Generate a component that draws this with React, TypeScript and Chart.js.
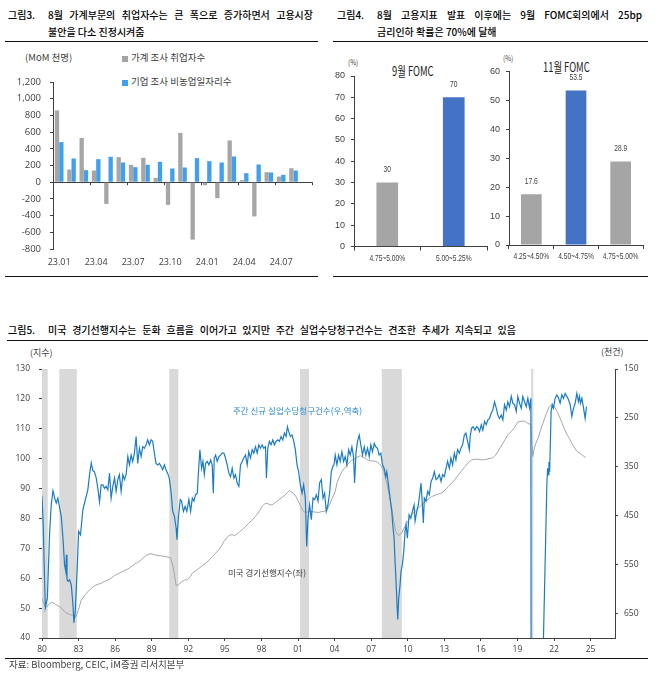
import React, { useEffect, useRef } from 'react';
import { Chart, registerables } from 'chart.js';
Chart.register(...registerables);

const KR = "'Noto Sans CJK KR', 'Noto Sans', sans-serif";
const NUM = "'Open Sans', 'Noto Sans', sans-serif";
const NARROW = "'Liberation Sans', 'Noto Sans', sans-serif";
const AXIS = '#404040';
const TXT = '#404040';

// ---------- 그림3 data ----------
const months = ['23.01', '23.02', '23.03', '23.04', '23.05', '23.06', '23.07', '23.08', '23.09', '23.10', '23.11', '23.12', '24.01', '24.02', '24.03', '24.04', '24.05', '24.06', '24.07', '24.08', '24.09'];
const householdEmp = [860, 152, 530, 140, -260, 300, 208, 292, 52, -272, 590, -688, -36, -192, 500, 25, -410, 120, 68, 168, null];
const payrolls = [480, 284, 144, 276, 304, 236, 180, 208, 244, 164, 176, 288, 252, 236, 308, 108, 212, 116, 88, 140, null];
const householdLabel = '가계 조사 취업자수';
const payrollLabel = '기업 조사 비농업일자리수';

// ---------- 그림4 data ----------
const sepLabels = ['4.75~5.00%', '5.00~5.25%'];
const sepValues = [30, 70];
const sepColors = ['#a5a5a5', '#4472c4'];
const novLabels = ['4.25~4.50%', '4.50~4.75%', '4.75~5.00%'];
const novValues = [17.6, 53.5, 28.9];
const novColors = ['#a5a5a5', '#4472c4', '#a5a5a5'];

// ---------- 그림5 data ----------
const leiYears = [1980.0, 1980.15, 1980.3, 1980.5, 1980.76, 1981.0, 1981.17, 1981.45, 1981.65, 1981.85, 1982.05, 1982.26, 1982.5, 1982.75, 1983.0, 1983.2, 1983.5, 1983.76, 1984.0, 1984.3, 1984.6, 1984.85, 1985.1, 1985.4, 1985.7, 1985.95, 1986.2, 1986.5, 1986.8, 1987.04, 1987.3, 1987.58, 1987.85, 1988.13, 1988.35, 1988.54, 1988.75, 1988.95, 1989.2, 1989.5, 1989.75, 1990.04, 1990.3, 1990.53, 1990.7, 1990.85, 1991.0, 1991.15, 1991.3, 1991.5, 1991.7, 1991.94, 1992.15, 1992.33, 1992.6, 1992.87, 1993.15, 1993.42, 1993.7, 1993.96, 1994.25, 1994.5, 1994.75, 1994.92, 1995.15, 1995.33, 1995.6, 1995.8, 1996.0, 1996.2, 1996.42, 1996.7, 1996.96, 1997.25, 1997.5, 1997.8, 1998.05, 1998.25, 1998.46, 1998.65, 1998.87, 1999.15, 1999.42, 1999.7, 1999.96, 2000.15, 2000.29, 2000.45, 2000.64, 2000.85, 2001.05, 2001.25, 2001.46, 2001.65, 2001.87, 2002.15, 2002.42, 2002.7, 2002.96, 2003.15, 2003.37, 2003.6, 2003.78, 2004.05, 2004.19, 2004.4, 2004.6, 2004.85, 2005.15, 2005.4, 2005.69, 2005.9, 2006.1, 2006.3, 2006.5, 2006.7, 2006.92, 2007.2, 2007.46, 2007.65, 2007.87, 2008.05, 2008.28, 2008.5, 2008.69, 2008.85, 2009.02, 2009.24, 2009.5, 2009.7, 2009.92, 2010.15, 2010.33, 2010.6, 2010.87, 2011.15, 2011.42, 2011.7, 2011.96, 2012.25, 2012.5, 2012.8, 2013.05, 2013.35, 2013.6, 2013.9, 2014.14, 2014.4, 2014.69, 2014.95, 2015.24, 2015.5, 2015.78, 2016.05, 2016.3, 2016.57, 2016.98, 2017.2, 2017.4, 2017.6, 2017.8, 2018.0, 2018.2, 2018.4, 2018.62, 2018.85, 2019.03, 2019.3, 2019.55, 2019.75, 2019.95, 2020.1, 2020.18, 2020.26, 2020.35, 2020.5, 2020.7, 2020.9, 2021.1, 2021.33, 2021.6, 2021.85, 2022.05, 2022.25, 2022.45, 2022.65, 2022.85, 2023.05, 2023.25, 2023.45, 2023.65, 2023.85, 2024.05, 2024.25, 2024.45, 2024.6];
const leiValues = [53.3, 51.5, 50.2, 50.8, 52.0, 51.6, 51.1, 50.5, 49.8, 48.8, 48.3, 47.9, 47.5, 46.8, 49.5, 52.5, 54.3, 55.5, 56.5, 57.5, 58.0, 58.3, 58.9, 59.4, 60.1, 60.9, 61.4, 62.0, 62.6, 63.1, 63.8, 64.7, 65.3, 66.1, 66.9, 67.6, 68.0, 68.2, 67.9, 67.6, 67.5, 67.3, 67.1, 66.9, 64.8, 61.5, 57.7, 57.6, 58.3, 58.9, 59.4, 59.5, 60.5, 61.7, 62.5, 63.3, 64.2, 65.0, 66.0, 67.2, 68.4, 69.5, 71.0, 72.3, 73.5, 74.3, 74.6, 74.2, 74.8, 75.5, 76.2, 77.3, 78.4, 79.5, 80.6, 82.3, 84.0, 84.8, 85.1, 84.6, 84.5, 85.4, 86.2, 87.1, 87.9, 88.8, 89.3, 88.9, 88.4, 87.2, 85.6, 83.8, 82.3, 82.0, 82.3, 82.3, 82.1, 82.0, 82.3, 82.4, 82.8, 84.8, 86.5, 89.0, 91.8, 94.0, 95.7, 97.0, 98.5, 99.4, 100.1, 100.6, 101.0, 100.6, 100.1, 99.6, 99.3, 99.2, 99.0, 98.4, 97.3, 95.5, 91.8, 87.5, 83.4, 79.0, 75.6, 74.3, 75.0, 76.8, 78.4, 80.0, 81.2, 82.4, 83.4, 84.6, 85.6, 86.5, 87.3, 87.8, 88.1, 88.6, 89.5, 90.7, 91.8, 93.2, 94.5, 95.9, 97.3, 98.6, 99.6, 99.8, 99.8, 99.6, 99.7, 99.9, 100.3, 101.2, 102.4, 103.8, 105.1, 106.5, 107.9, 108.8, 109.6, 111.0, 112.3, 112.5, 112.6, 112.1, 111.6, 111.5, 105.7, 100.7, 103.0, 105.1, 107.0, 109.6, 112.0, 114.6, 117.4, 118.2, 117.3, 115.8, 114.0, 112.0, 110.0, 108.2, 106.8, 105.2, 103.8, 102.6, 102.0, 101.4, 100.8, 100.4];
const claimsYears = [1980.0, 1980.1, 1980.27, 1980.44, 1980.63, 1980.76, 1980.9, 1981.04, 1981.17, 1981.3, 1981.45, 1981.58, 1981.72, 1981.85, 1981.95, 1982.0, 1982.05, 1982.13, 1982.26, 1982.4, 1982.54, 1982.62, 1982.73, 1982.9, 1983.0, 1983.16, 1983.35, 1983.49, 1983.76, 1983.9, 1984.04, 1984.17, 1984.3, 1984.45, 1984.58, 1984.72, 1984.85, 1984.99, 1985.13, 1985.26, 1985.4, 1985.54, 1985.67, 1985.81, 1985.95, 1986.08, 1986.22, 1986.35, 1986.49, 1986.63, 1986.76, 1986.9, 1987.04, 1987.17, 1987.31, 1987.44, 1987.58, 1987.72, 1987.85, 1987.99, 1988.13, 1988.26, 1988.4, 1988.54, 1988.67, 1988.81, 1988.95, 1989.08, 1989.22, 1989.35, 1989.49, 1989.63, 1989.76, 1989.9, 1990.04, 1990.17, 1990.3, 1990.44, 1990.58, 1990.72, 1990.86, 1991.0, 1991.07, 1991.18, 1991.34, 1991.45, 1991.6, 1991.74, 1991.88, 1992.05, 1992.19, 1992.33, 1992.46, 1992.6, 1992.74, 1992.82, 1992.95, 1993.09, 1993.2, 1993.31, 1993.42, 1993.55, 1993.69, 1993.83, 1993.96, 1994.05, 1994.13, 1994.24, 1994.37, 1994.51, 1994.65, 1994.78, 1994.92, 1995.05, 1995.19, 1995.33, 1995.46, 1995.6, 1995.74, 1995.87, 1996.01, 1996.15, 1996.28, 1996.42, 1996.55, 1996.69, 1996.83, 1996.96, 1997.1, 1997.24, 1997.37, 1997.51, 1997.65, 1997.78, 1997.92, 1998.05, 1998.19, 1998.33, 1998.41, 1998.52, 1998.65, 1998.79, 1998.93, 1999.06, 1999.2, 1999.34, 1999.47, 1999.61, 1999.75, 1999.88, 2000.02, 2000.13, 2000.24, 2000.37, 2000.51, 2000.65, 2000.78, 2000.92, 2001.05, 2001.19, 2001.33, 2001.46, 2001.6, 2001.71, 2001.82, 2001.95, 2002.09, 2002.23, 2002.36, 2002.5, 2002.64, 2002.77, 2002.91, 2003.05, 2003.18, 2003.32, 2003.45, 2003.59, 2003.73, 2003.86, 2003.95, 2004.05, 2004.19, 2004.33, 2004.46, 2004.6, 2004.74, 2004.87, 2005.01, 2005.15, 2005.28, 2005.42, 2005.55, 2005.64, 2005.75, 2005.88, 2006.02, 2006.15, 2006.29, 2006.43, 2006.56, 2006.7, 2006.84, 2006.97, 2007.11, 2007.25, 2007.38, 2007.52, 2007.65, 2007.79, 2007.93, 2008.06, 2008.2, 2008.28, 2008.42, 2008.55, 2008.69, 2008.77, 2008.88, 2008.96, 2009.04, 2009.13, 2009.18, 2009.26, 2009.37, 2009.45, 2009.56, 2009.67, 2009.78, 2009.86, 2009.97, 2010.11, 2010.25, 2010.38, 2010.52, 2010.6, 2010.74, 2010.87, 2011.01, 2011.09, 2011.2, 2011.28, 2011.36, 2011.5, 2011.64, 2011.77, 2011.91, 2012.05, 2012.18, 2012.32, 2012.45, 2012.59, 2012.73, 2012.86, 2013.0, 2013.14, 2013.27, 2013.41, 2013.54, 2013.68, 2013.82, 2013.95, 2014.09, 2014.23, 2014.36, 2014.5, 2014.64, 2014.77, 2014.91, 2015.05, 2015.13, 2015.24, 2015.37, 2015.51, 2015.64, 2015.78, 2015.89, 2016.03, 2016.16, 2016.3, 2016.44, 2016.57, 2016.71, 2016.85, 2016.98, 2017.12, 2017.26, 2017.39, 2017.53, 2017.67, 2017.8, 2017.94, 2018.08, 2018.21, 2018.35, 2018.49, 2018.62, 2018.76, 2018.9, 2019.03, 2019.17, 2019.31, 2019.44, 2019.58, 2019.72, 2019.85, 2019.99, 2020.1, 2020.2, 2020.27, 2020.4, 2020.55, 2020.75, 2021.0, 2021.41, 2021.47, 2021.52, 2021.58, 2021.64, 2021.76, 2021.85, 2021.95, 2022.09, 2022.23, 2022.37, 2022.5, 2022.64, 2022.78, 2022.91, 2023.05, 2023.19, 2023.32, 2023.46, 2023.6, 2023.73, 2023.87, 2024.0, 2024.09, 2024.17, 2024.28, 2024.42, 2024.55, 2024.66];
const claimsValues = [410, 470, 638, 618, 482, 427, 399, 414, 424, 414, 434, 451, 496, 550, 564, 530, 580, 584, 581, 591, 632, 669, 645, 550, 482, 489, 438, 424, 397, 366, 342, 358, 360, 373, 394, 422, 387, 387, 394, 390, 397, 363, 414, 390, 373, 400, 376, 366, 400, 366, 376, 366, 329, 346, 326, 339, 322, 288, 343, 312, 329, 309, 312, 305, 295, 305, 295, 298, 322, 343, 346, 343, 349, 356, 346, 356, 363, 373, 400, 441, 451, 475, 499, 455, 417, 420, 441, 431, 441, 417, 441, 414, 420, 407, 404, 366, 315, 353, 339, 366, 343, 339, 346, 336, 346, 404, 332, 326, 339, 329, 326, 322, 322, 332, 346, 363, 370, 353, 373, 366, 383, 390, 346, 339, 332, 326, 346, 319, 332, 315, 322, 309, 322, 305, 312, 305, 312, 309, 373, 312, 298, 305, 295, 305, 298, 295, 298, 288, 295, 281, 288, 268, 278, 288, 285, 298, 315, 346, 360, 387, 404, 387, 414, 513, 455, 428, 458, 414, 417, 407, 420, 383, 376, 414, 404, 441, 428, 404, 360, 349, 346, 326, 346, 326, 339, 319, 339, 329, 346, 315, 326, 309, 329, 383, 322, 298, 285, 305, 326, 309, 326, 312, 329, 305, 319, 302, 309, 312, 326, 322, 346, 353, 370, 360, 387, 414, 441, 468, 496, 543, 584, 638, 662, 618, 591, 564, 550, 523, 482, 468, 496, 448, 455, 441, 428, 461, 441, 428, 400, 383, 428, 465, 414, 420, 400, 407, 380, 373, 360, 376, 373, 366, 380, 366, 370, 353, 339, 353, 332, 346, 322, 336, 315, 322, 312, 305, 285, 281, 298, 315, 285, 271, 268, 275, 268, 271, 278, 264, 275, 257, 264, 254, 251, 240, 234, 217, 230, 244, 251, 244, 254, 223, 234, 217, 227, 206, 220, 223, 237, 206, 220, 230, 206, 217, 227, 210, 230, 210, 3300, 6100, 2400, 1400, 850, 850, 387, 353, 366, 340, 360, 237, 223, 230, 210, 203, 210, 220, 203, 210, 200, 206, 213, 223, 247, 230, 220, 200, 217, 206, 220, 210, 230, 251, 227];
const recessionStarts = [1980.0, 1981.42, 1990.44, 2001.16, 2007.87, 2020.12];
const recessionEnds = [1980.47, 1982.85, 1991.18, 2001.9, 2009.51, 2020.3];
const yearTicks = [1980, 1983, 1986, 1989, 1992, 1995, 1998, 2001, 2004, 2007, 2010, 2013, 2016, 2019, 2022, 2025];
const leftTicks = [40, 50, 60, 70, 80, 90, 100, 110, 120, 130];
const rightTicks = [150, 250, 350, 450, 550, 650];
const claimsLabel = '주간 신규 실업수당청구건수(우,역축)';
const leiLabel = '미국 경기선행지수(좌)';

function ChartBox({ left, top, width, height, make }: any) {
  const ref = useRef<HTMLCanvasElement>(null);
  useEffect(() => {
    const chart = new Chart(ref.current as HTMLCanvasElement, make());
    return () => chart.destroy();
  }, []);
  return (
    <div style={{ position: 'absolute', left, top, width, height }}>
      <canvas ref={ref} width={width} height={height} style={{ width, height, display: 'block' }} />
    </div>
  );
}

function T({ x, y, size = 10, color = TXT, children, w, justify, weight = 400, scaleX, family = KR }: any) {
  const style: any = {
    position: 'absolute', left: x, top: y - size * 0.6, fontSize: size, lineHeight: `${size * 1.2}px`,
    color, fontFamily: family, whiteSpace: 'nowrap', fontWeight: weight,
  };
  if (w) { style.width = w; }
  if (justify) { style.textAlign = 'justify'; style.textAlignLast = 'justify'; style.whiteSpace = 'normal'; }
  if (scaleX) { style.transform = `scaleX(${scaleX})`; style.transformOrigin = 'left center'; }
  return <div style={style}>{children}</div>;
}

function HR({ x, y, w }: any) {
  return <div style={{ position: 'absolute', left: x, top: y, width: w, height: 1, background: '#111' }} />;
}

const zeroTicks = {
  id: 'zeroTicks',
  afterDatasetsDraw(chart: any) {
    const xs = chart.scales.x, ys = chart.scales.y, ctx = chart.ctx;
    const step = (xs.right - xs.left) / months.length;
    const y0 = ys.getPixelForValue(0);
    ctx.save();
    ctx.strokeStyle = AXIS;
    ctx.lineWidth = 1;
    for (let i = 0; i <= months.length; i += 3) {
      const x = Math.round(xs.left + i * step) + 0.5;
      ctx.beginPath(); ctx.moveTo(x, y0); ctx.lineTo(x, y0 + 3); ctx.stroke();
    }
    ctx.restore();
  },
};

function jobsConfig(): any {
  return {
    type: 'bar',
    data: {
      labels: months,
      datasets: [
        { label: householdLabel, data: householdEmp, backgroundColor: '#a6a6a6', categoryPercentage: 0.7, barPercentage: 1 },
        { label: payrollLabel, data: payrolls, backgroundColor: '#3f9ff0', categoryPercentage: 0.7, barPercentage: 1 },
      ],
    },
    options: {
      responsive: false, animation: false,
      layout: { padding: { top: 37, right: 18, left: 0, bottom: 0 } },
      plugins: { legend: { display: false }, tooltip: { enabled: false } },
      scales: {
        x: {
          grid: { display: false, drawTicks: false }, border: { display: false },
          ticks: { autoSkip: false, maxRotation: 0, padding: 8, color: TXT, font: { family: NUM, size: 9 }, callback: (_v: any, i: number) => (i % 3 === 0 ? months[i] : '') },
          afterFit: (s: any) => { s.height = 24; },
        },
        y: {
          min: -800, max: 1200,
          ticks: { stepSize: 200, padding: 9, color: TXT, font: { family: NUM, size: 9.5 }, callback: (v: any) => Number(v).toLocaleString('en-US') },
          grid: { color: (c: any) => (c.tick && c.tick.value === 0 ? AXIS : 'rgba(0,0,0,0)'), tickColor: AXIS, tickLength: 3, drawTicks: true },
          border: { display: true, color: AXIS },
          afterFit: (s: any) => { s.width = 53; },
        },
      },
    },
    plugins: [zeroTicks],
  };
}

function fomcConfig(labels: string[], values: number[], colors: string[], yMax: number, yWidth: number, padTop: number, padRight: number, xHeight: number, barPct: number): any {
  const SQ = 0.74;
  const narrowText = {
    id: 'narrowText',
    afterDraw(chart: any) {
      const ctx = chart.ctx;
      const xs = chart.scales.x;
      const meta = chart.getDatasetMeta(0);
      ctx.save();
      ctx.fillStyle = TXT;
      ctx.textAlign = 'center';
      ctx.textBaseline = 'middle';
      ctx.font = `9px ${NARROW}`;
      meta.data.forEach((bar: any, i: number) => {
        ctx.save(); ctx.translate(bar.x, bar.y - 13); ctx.scale(SQ, 1); ctx.fillText(String(values[i]), 0, 0); ctx.restore();
      });
      ctx.font = `9px ${NARROW}`;
      labels.forEach((lab, i) => {
        ctx.save(); ctx.translate(xs.getPixelForValue(i), xs.top + 12); ctx.scale(SQ, 1); ctx.fillText(lab, 0, 0); ctx.restore();
      });
      ctx.restore();
    },
  };
  return {
    type: 'bar',
    data: { labels, datasets: [{ data: values, backgroundColor: colors, categoryPercentage: 1, barPercentage: barPct }] },
    options: {
      responsive: false, animation: false,
      layout: { padding: { top: padTop, right: padRight, left: 0, bottom: 0 } },
      plugins: { legend: { display: false }, tooltip: { enabled: false } },
      scales: {
        x: {
          grid: { offset: true, drawOnChartArea: false, drawTicks: true, tickLength: 4, color: AXIS },
          border: { display: true, color: AXIS },
          ticks: { display: false },
          afterFit: (s: any) => { s.height = xHeight; },
        },
        y: {
          min: 0, max: yMax,
          ticks: { stepSize: 10, padding: 6, color: TXT, font: { family: NARROW, size: 9 } },
          grid: { drawOnChartArea: false, drawTicks: true, tickLength: 3, color: AXIS },
          border: { display: true, color: AXIS },
          afterFit: (s: any) => { s.width = yWidth; },
        },
      },
    },
    plugins: [narrowText],
  };
}

const recessionShade = {
  id: 'recessionShade',
  beforeDatasetsDraw(chart: any) {
    const xs = chart.scales.x, a = chart.chartArea, ctx = chart.ctx;
    ctx.save();
    ctx.fillStyle = '#d9d9d9';
    recessionStarts.forEach((s, i) => {
      const x0 = xs.getPixelForValue(s), x1 = xs.getPixelForValue(recessionEnds[i]);
      ctx.fillRect(x0, a.top, x1 - x0, a.bottom - a.top);
    });
    ctx.restore();
  },
};

function leiConfig(): any {
  const tickFont = { family: NUM, size: 8.5 };
  return {
    type: 'line',
    data: {
      datasets: [
        { label: claimsLabel, data: claimsYears.map((x, i) => ({ x, y: claimsValues[i] })), yAxisID: 'y2', borderColor: '#1b7cc4', borderWidth: 1.2, pointRadius: 0, tension: 0, fill: false },
        { label: leiLabel, data: leiYears.map((x, i) => ({ x, y: leiValues[i] })), yAxisID: 'y', borderColor: '#a6a6a6', borderWidth: 1, pointRadius: 0, tension: 0, fill: false },
      ],
    },
    options: {
      responsive: false, animation: false,
      layout: { padding: { top: 24, right: 0, left: 0, bottom: 0 } },
      plugins: { legend: { display: false }, tooltip: { enabled: false } },
      scales: {
        x: {
          type: 'linear', min: 1980, max: 2027,
          afterBuildTicks: (s: any) => { s.ticks = yearTicks.map((v) => ({ value: v })); },
          ticks: { autoSkip: false, maxRotation: 0, padding: 3, color: TXT, font: tickFont, callback: (v: any) => String(Number(v) % 100).padStart(2, '0') },
          grid: { drawOnChartArea: false, drawTicks: true, tickLength: 3, color: AXIS },
          border: { display: true, color: AXIS },
          afterFit: (s: any) => { s.height = 20; },
        },
        y: {
          position: 'left', min: 40, max: 130,
          afterBuildTicks: (s: any) => { s.ticks = leftTicks.map((v) => ({ value: v })); },
          ticks: { padding: 9, color: TXT, font: tickFont },
          grid: { drawOnChartArea: false, drawTicks: true, tickLength: 3, color: AXIS },
          border: { display: true, color: AXIS },
          afterFit: (s: any) => { s.width = 42; },
        },
        y2: {
          position: 'right', min: 150, max: 700, reverse: true,
          afterBuildTicks: (s: any) => { s.ticks = rightTicks.map((v) => ({ value: v })); },
          ticks: { padding: 6, color: TXT, font: tickFont },
          grid: { drawOnChartArea: false, drawTicks: true, tickLength: 3, color: AXIS },
          border: { display: true, color: AXIS },
          afterFit: (s: any) => { s.width = 47; },
        },
      },
    },
    plugins: [recessionShade],
  };
}

export default function App() {
  return (
    <div style={{ position: 'fixed', left: 0, top: 0, width: 662, height: 676, background: '#fff', overflow: 'hidden', fontFamily: KR }}>
      {/* 그림3 */}
      <T x={8} y={15} size={10} color="#000" weight={500}>그림3.</T>
      <T x={48} y={15} size={10} color="#000" weight={500} w={265} justify>8월 가계부문의 취업자수는 큰 폭으로 증가하면서 고용시장</T>
      <T x={48} y={32} size={10} color="#000" weight={500}>불안을 다소 진정시켜줌</T>
      <HR x={5} y={41} w={313} />
      <T x={25} y={58} size={9.5}>(MoM 천명)</T>
      <div style={{ position: 'absolute', left: 122, top: 56, width: 6, height: 6, background: '#a6a6a6' }} />
      <T x={131} y={58} size={9.5}>{householdLabel}</T>
      <div style={{ position: 'absolute', left: 122, top: 80, width: 6, height: 6, background: '#3f9ff0' }} />
      <T x={131} y={82} size={9.5}>{payrollLabel}</T>
      <ChartBox left={0} top={45} width={330} height={228} make={jobsConfig} />
      <HR x={5} y={276} w={313} />

      {/* 그림4 */}
      <T x={337} y={15} size={10} color="#000" weight={500}>그림4.</T>
      <T x={377} y={15} size={10} color="#000" weight={500} w={265} justify>8월 고용지표 발표 이후에는 9월 FOMC회의에서 25bp</T>
      <T x={377} y={32} size={10} color="#000" weight={500}>금리인하 확률은 70%에 달해</T>
      <HR x={333} y={41} w={315} />
      <T x={348} y={62} size={8} scaleX={0.8}>(%)</T>
      <T x={392} y={71} size={13} scaleX={0.72} color="#222">9월 FOMC</T>
      <T x={503} y={58} size={8} scaleX={0.8}>(%)</T>
      <T x={543} y={67} size={13} scaleX={0.72} color="#222">11월 FOMC</T>
      <ChartBox left={330} top={50} width={165} height={222} make={() => fomcConfig(sepLabels, sepValues, sepColors, 80, 24, 26, 8, 25.5, 0.326)} />
      <ChartBox left={488} top={50} width={165} height={222} make={() => fomcConfig(novLabels, novValues, novColors, 60, 21, 21.6, 10, 27, 0.463)} />
      <HR x={333} y={276} w={315} />

      {/* 그림5 */}
      <T x={8} y={330} size={10} color="#000" weight={500}>그림5.</T>
      <T x={48} y={330} size={10} color="#000" weight={500} w={468} justify>미국 경기선행지수는 둔화 흐름을 이어가고 있지만 주간 실업수당청구건수는 견조한 추세가 지속되고 있음</T>
      <HR x={7} y={340} w={641} />
      <T x={30} y={353} size={9}>(지수)</T>
      <T x={601} y={352} size={9}>(천건)</T>
      <ChartBox left={0} top={345} width={662} height={313} make={leiConfig} />
      <T x={233} y={410} size={8.5} color="#2b8ad0">{claimsLabel}</T>
      <T x={228} y={572} size={8.5} color="#404040">{leiLabel}</T>
      <HR x={5} y={658} w={643} />
      <T x={9} y={665} size={9.5}>자료: Bloomberg, CEIC, iM증권 리서치본부</T>
    </div>
  );
}
